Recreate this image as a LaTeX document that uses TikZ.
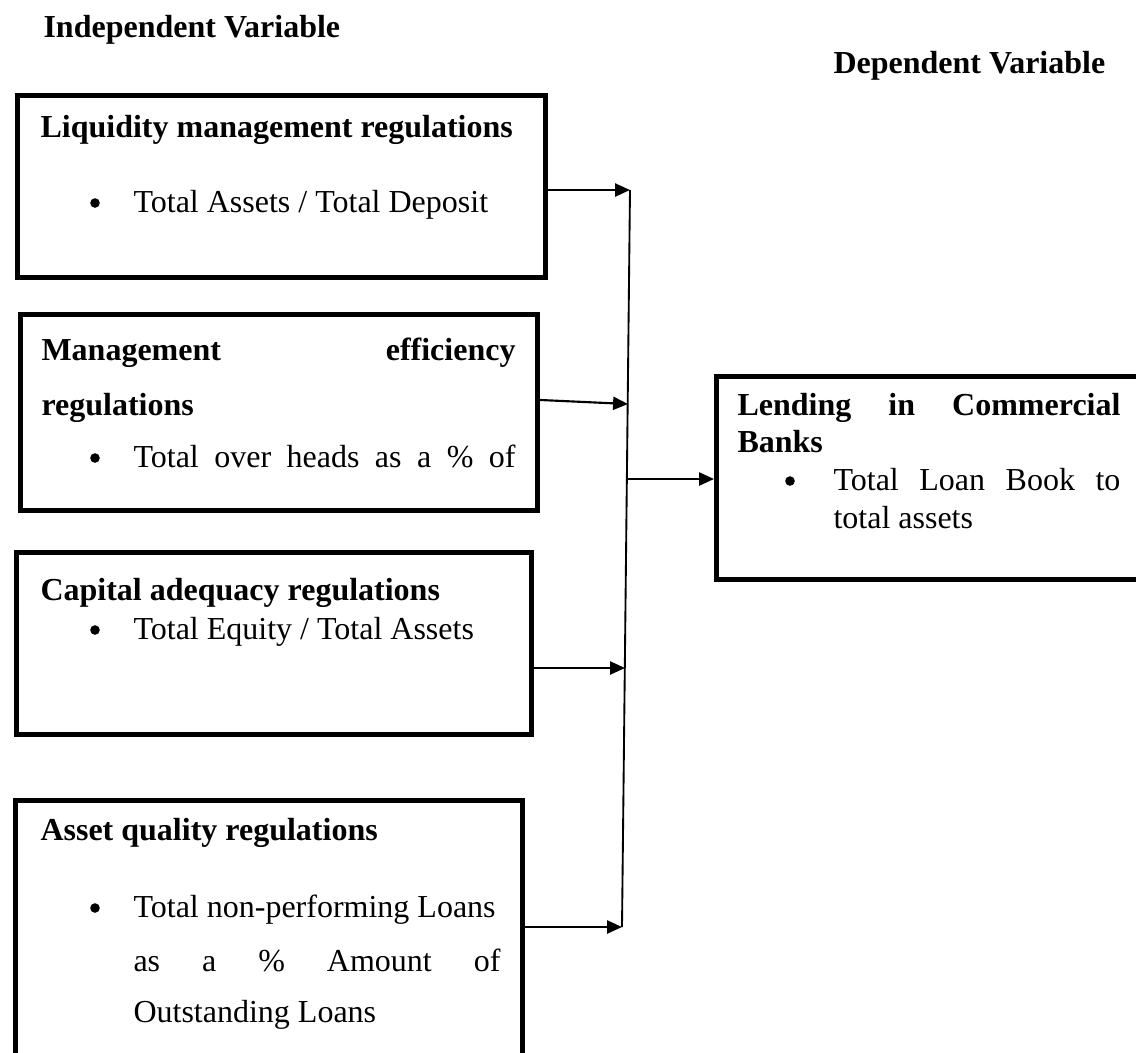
\documentclass[tikz,border=0pt]{standalone}
\usepackage{fontspec}
\setmainfont{Liberation Serif}
\usetikzlibrary{arrows.meta,positioning,calc}

\begin{document}
\begin{tikzpicture}[x=0.375pt, y=-0.375pt,
    box/.style={draw, line width=1.9pt, inner sep=0pt},
    link/.style={-{Triangle[length=5.6pt,width=4.9pt]}, line width=0.8pt},
    dot/.style={circle, fill, inner sep=0pt, minimum size=3.6pt},
    txt/.style={anchor=base west, inner sep=0pt, font=\fontsize{12}{14}\selectfont},
    hd/.style={txt, font=\fontsize{12}{14}\selectfont\bfseries}]
    \useasboundingbox (0,0) rectangle (1136,1052);

    \node[hd] (indep) at (43,37) {Independent Variable};
    \node[hd] (dep) at (833,73) {Dependent Variable};

    % independent variables
    \node[box, minimum width=198pt, minimum height=68.25pt] (liq) at (281.5,186.5) {};
    \node[hd] (liqt) at (40,137) {Liquidity management regulations};
    \node[dot] (liqb) at (95,203) {};
    \node[txt] (liqi) at (133,212) {Total Assets / Total Deposit};

    \node[box, minimum width=193.9pt, minimum height=73.5pt] (mgmt) at (279,412.5) {};
    \node[hd] (mgmtt) at (41,360) {\makebox[177.75pt][s]{Management efficiency}};
    \node[hd] (mgmtr) at (41,415) {regulations};
    \node[dot] (mgmtb) at (95,458) {};
    \node[txt] (mgmti) at (133,467) {\makebox[143.25pt][s]{Total over heads as a \% of}};

    \node[box, minimum width=193.1pt, minimum height=68.25pt] (cap) at (274,643.5) {};
    \node[hd] (capt) at (40,600) {Capital adequacy regulations};
    \node[dot] (capb) at (95,630) {};
    \node[txt] (capi) at (133,639) {Total Equity / Total Assets};

    \node[box, minimum width=190.1pt, minimum height=97.1pt] (asset) at (269,930) {};
    \node[hd] (assett) at (40,840) {Asset quality regulations};
    \node[dot] (assetb) at (95,908) {};
    \node[txt] (asseti) at (133,917) {Total non-performing Loans};
    \node[txt] (assetj) at (133,971) {\makebox[137.6pt][s]{as a \% Amount of}};
    \node[txt] (assetk) at (133,1022) {Outstanding Loans};

    % dependent variable
    \node[box, minimum width=161.6pt, minimum height=76.1pt] (lend) at (932,478) {};
    \node[hd] (lendt) at (737,415) {\makebox[143.6pt][s]{Lending in Commercial}};
    \node[hd] (lendr) at (737,452) {Banks};
    \node[dot] (lendb) at (790,481) {};
    \node[txt] (lendi) at (833,490) {\makebox[107.6pt][s]{Total Loan Book to}};
    \node[txt] (lendj) at (833,528) {total assets};

    \coordinate (j1) at (630,190);
    \coordinate (j2) at (628,404);
    \coordinate (j3) at (625,668);
    \coordinate (j4) at (622,927);
    \coordinate (jm) at (627,479);

    \draw[line width=0.7pt] (j1) -- (j4);
    \draw[link] (liq.east |- j1) -- (j1);
    \draw[link] ([yshift=4.7pt]mgmt.east) -- (j2);
    \draw[link] (cap.east |- j3) -- (j3);
    \draw[link] (asset.east |- j4) -- (j4);
    \draw[link] (jm) -- (lend.west |- jm);
\end{tikzpicture}
\end{document}
